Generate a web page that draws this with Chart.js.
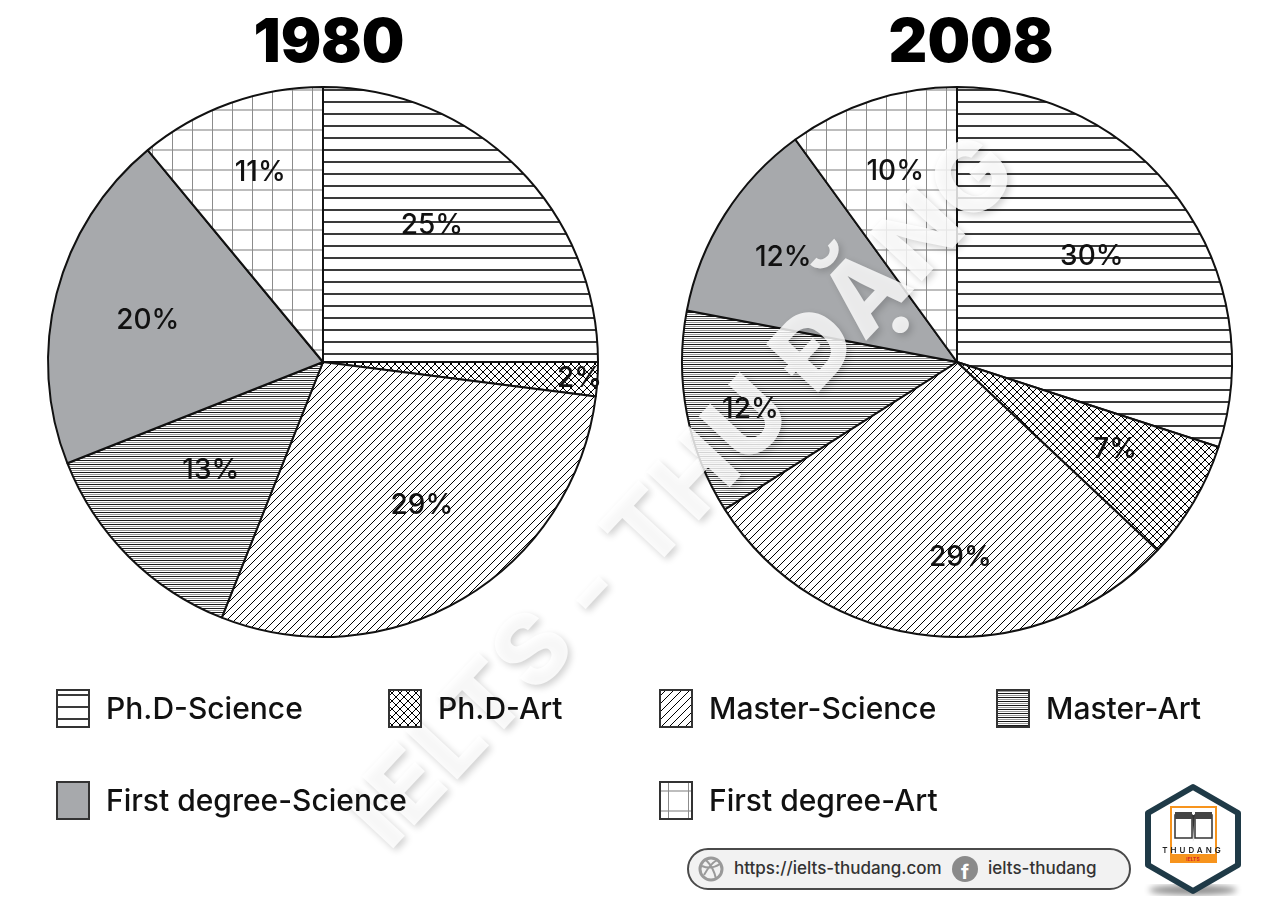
<!DOCTYPE html>
<html><head><meta charset="utf-8">
<script src="https://cdn.jsdelivr.net/npm/chart.js@4.4.1/dist/chart.umd.min.js"></script>
<style>
body{margin:0;width:1267px;height:917px;background:#fff;position:relative;overflow:hidden;font-family:Inter,"Noto Sans",sans-serif;}
#bg{position:absolute;left:0;top:0;z-index:0;}
canvas.pie{position:absolute;top:0;z-index:1;}
#legend{position:absolute;left:0;top:0;z-index:2;}
.leg{position:absolute;height:40px;display:flex;align-items:center;font-size:30px;font-weight:500;color:#111;white-space:nowrap;}
.leg canvas{margin-right:16px;}
.pill{position:absolute;left:687px;top:848px;width:440px;height:38px;border:2px solid #4a4a4a;border-radius:21px;background:#f2f2f2;z-index:2;}
.pill span{position:absolute;top:8px;font-size:17px;font-weight:500;color:#333;}
.logo{position:absolute;left:1138px;top:782px;z-index:2;}
</style></head>
<body>
<canvas id="bg" width="1267" height="917"></canvas>
<canvas id="c1" class="pie" width="600" height="662" style="left:23px"></canvas>
<canvas id="c2" class="pie" width="600" height="662" style="left:657px"></canvas>
<div id="legend"></div>
<div class="pill">
  <svg style="position:absolute;left:9px;top:6px" width="26" height="26"><circle cx="13" cy="13" r="11" fill="none" stroke="#9a9a9a" stroke-width="3"/><path d="M4 10 Q13 14 22 8 M6 19 Q12 8 19 4 M8 4 Q16 12 18 23" fill="none" stroke="#9a9a9a" stroke-width="2"/></svg>
  <span style="left:45px">https://ielts-thudang.com</span>
  <svg style="position:absolute;left:262px;top:5px" width="28" height="28"><circle cx="14" cy="14" r="13" fill="#8a8a8a"/><text x="14" y="24" text-anchor="middle" font-family="Inter" font-weight="700" font-size="20" fill="#fff">f</text></svg>
  <span style="left:299px">ielts-thudang</span>
</div>
<svg class="logo" width="112" height="125">
  <defs><filter id="bl"><feGaussianBlur stdDeviation="3"/></filter></defs>
  <ellipse cx="55" cy="108" rx="44" ry="5" fill="#000" opacity="0.45" filter="url(#bl)"/>
  <path d="M55 5 L100 31 L100 83 L55 109 L10 83 L10 31 Z" fill="#fff" stroke="#1f3a47" stroke-width="6" stroke-linejoin="round"/>
  <rect x="33" y="25" width="45" height="55" fill="none" stroke="#f7941d" stroke-width="2"/>
  <rect x="33" y="72" width="45" height="8" fill="#f7941d"/>
  <path d="M37 33 L54 33 L54 56 L37 56 Z" fill="#fff" stroke="#333" stroke-width="1.5"/>
  <path d="M57 33 L74 33 L74 56 L57 56 Z" fill="#fff" stroke="#333" stroke-width="1.5"/>
  <rect x="37" y="30" width="17" height="7" fill="#444"/><rect x="57" y="30" width="17" height="7" fill="#444"/>
  <path d="M54 33 Q55 40 55 60 Q56 40 57 33" fill="#333"/>
  <text x="55" y="71" text-anchor="middle" font-family="Inter" font-size="8" font-weight="600" letter-spacing="3" fill="#222">THUDANG</text>
  <text x="55" y="78.5" text-anchor="middle" font-family="Inter" font-size="5" font-weight="700" fill="#d62828">IELTS</text>
</svg>
<script>
const categories = ['Ph.D-Science','Ph.D-Art','Master-Science','Master-Art','First degree-Science','First degree-Art'];
const values1980 = [25, 2, 29, 13, 20, 11];
const values2008 = [30, 7, 29, 12, 12, 10];
const chartTitles = ['1980', '2008'];
const watermarkText = 'IELTS - THU ĐẶNG';

function drawWatermark(ctx, offX, offY){
  ctx.save();
  ctx.translate(685 - offX, 492 - offY);
  ctx.rotate(-47 * Math.PI / 180);
  ctx.font = '800 98px Inter, "Noto Sans", sans-serif';
  try { ctx.letterSpacing = '3px'; } catch(e) {}
  ctx.textAlign = 'center'; ctx.textBaseline = 'middle';
  ctx.shadowColor = 'rgba(0,0,0,0.22)'; ctx.shadowBlur = 7; ctx.shadowOffsetX = 3; ctx.shadowOffsetY = 3;
  ctx.fillStyle = 'rgba(255,255,255,0.82)';
  ctx.fillText(watermarkText, 0, 0);
  ctx.restore();
}
drawWatermark(document.getElementById('bg').getContext('2d'), 0, 0);

function tile(kind){
  const c = document.createElement('canvas');
  const x = c.getContext('2d');
  const W = {hlines:[12,12], cross:[8,8], diag:[8,8], fine:[4,4], solid:[4,4], grid:[20,20]}[kind];
  c.width = W[0]; c.height = W[1];
  x.fillStyle = '#fff'; x.fillRect(0,0,c.width,c.height);
  if (kind==='hlines'){ x.fillStyle='#3a3a3a'; x.fillRect(0,5,12,2); }
  if (kind==='fine'){ x.fillStyle='#1a1a1a'; x.fillRect(0,0,4,1); x.fillStyle='#9a9a9a'; x.fillRect(0,2,4,1); }
  if (kind==='solid'){ x.fillStyle='#a7a9ac'; x.fillRect(0,0,4,4); }
  if (kind==='grid'){ x.fillStyle='#bdbdbd'; x.fillRect(0,9,20,2); x.fillStyle='#8c8c8c'; x.fillRect(9,0,1,20); }
  if (kind==='diag' || kind==='cross'){
    x.strokeStyle='#000'; x.lineWidth=1;
    x.beginPath();
    x.moveTo(-1,9); x.lineTo(9,-1);
    x.moveTo(-1,1); x.lineTo(1,-1);
    x.moveTo(7,9); x.lineTo(9,7);
    if (kind==='cross'){ x.moveTo(-1,-1); x.lineTo(9,9); x.moveTo(-1,7); x.lineTo(1,9); x.moveTo(7,-1); x.lineTo(9,1); }
    x.stroke();
  }
  return c;
}
const kinds = ['hlines','cross','diag','fine','solid','grid'];
const tmp = document.createElement('canvas').getContext('2d');
const patterns = kinds.map(k => tmp.createPattern(tile(k), 'repeat'));

const labelPlugin = {
  id: 'sliceLabels',
  afterDatasetsDraw(chart, args, opts){
    const ctx = chart.ctx;
    const meta = chart.getDatasetMeta(0);
    const data = chart.data.datasets[0].data;
    const arc0 = meta.data[0].getProps(['x','y','outerRadius'], true);
    // watermark over the pie, clipped to the pie disc (outside it the page background shows it)
    ctx.save();
    ctx.beginPath(); ctx.arc(arc0.x, arc0.y, arc0.outerRadius + 2, 0, Math.PI*2); ctx.clip();
    drawWatermark(ctx, opts.offX, 0);
    ctx.restore();
    ctx.save();
    ctx.font = '500 28px Inter, "Noto Sans", sans-serif';
    ctx.fillStyle = '#111'; ctx.textAlign = 'center'; ctx.textBaseline = 'middle';
    meta.data.forEach((arc, i) => {
      const p = arc.getProps(['x','y','startAngle','endAngle','outerRadius'], true);
      const a = (p.startAngle + p.endAngle)/2 + opts.angleShift[i]*Math.PI/180;
      const r = p.outerRadius * opts.radial[i];
      ctx.fillText(data[i] + '%', p.x + Math.cos(a)*r, p.y + Math.sin(a)*r);
    });
    ctx.font = '900 60px Inter, "Noto Sans", sans-serif';
    ctx.fillStyle = '#000'; ctx.textBaseline = 'alphabetic';
    ctx.fillText(opts.title, chart.width/2 + opts.titleDx, 62);
    ctx.restore();
  }
};

function makePie(id, values, title, labelOpts){
  return new Chart(document.getElementById(id), {
    type: 'pie',
    data: { labels: categories, datasets: [{ data: values, backgroundColor: patterns, borderColor: '#111', borderWidth: 2 }] },
    options: {
      responsive: false, animation: false, radius: 275,
      layout: { padding: { top: 62 } },
      plugins: { legend: { display: false }, tooltip: { enabled: false },
        sliceLabels: Object.assign({ title: title }, labelOpts) }
    },
    plugins: [labelPlugin]
  });
}
makePie('c1', values1980, chartTitles[0], { offX: 23, titleDx: 6, angleShift: [-6.5, 0, -4, 1, -1, 1.5], radial: [0.636, 0.935, 0.633, 0.567, 0.655, 0.727] });
makePie('c2', values2008, chartTitles[1], { offX: 657, titleDx: 14, angleShift: [-2, -1.5, -6.4, -2.2, -1.3, 0], radial: [0.622, 0.658, 0.713, 0.771, 0.738, 0.727] });

// legend
const legendPos = [[56,688],[388,688],[659,688],[996,688],[56,780],[659,780]];
const legend = document.getElementById('legend');
categories.forEach((name, i) => {
  const d = document.createElement('div');
  d.className = 'leg';
  d.style.left = legendPos[i][0] + 'px'; d.style.top = legendPos[i][1] + 'px';
  const sw = document.createElement('canvas'); sw.width = 34; sw.height = 39;
  const sx = sw.getContext('2d');
  sx.fillStyle = sx.createPattern(tile(kinds[i]), 'repeat'); sx.fillRect(0,0,34,39);
  sx.strokeStyle = '#333'; sx.lineWidth = 2; sx.strokeRect(1,1,32,37);
  d.appendChild(sw);
  const t = document.createElement('span'); t.textContent = name; d.appendChild(t);
  legend.appendChild(d);
});
</script>
</body></html>
